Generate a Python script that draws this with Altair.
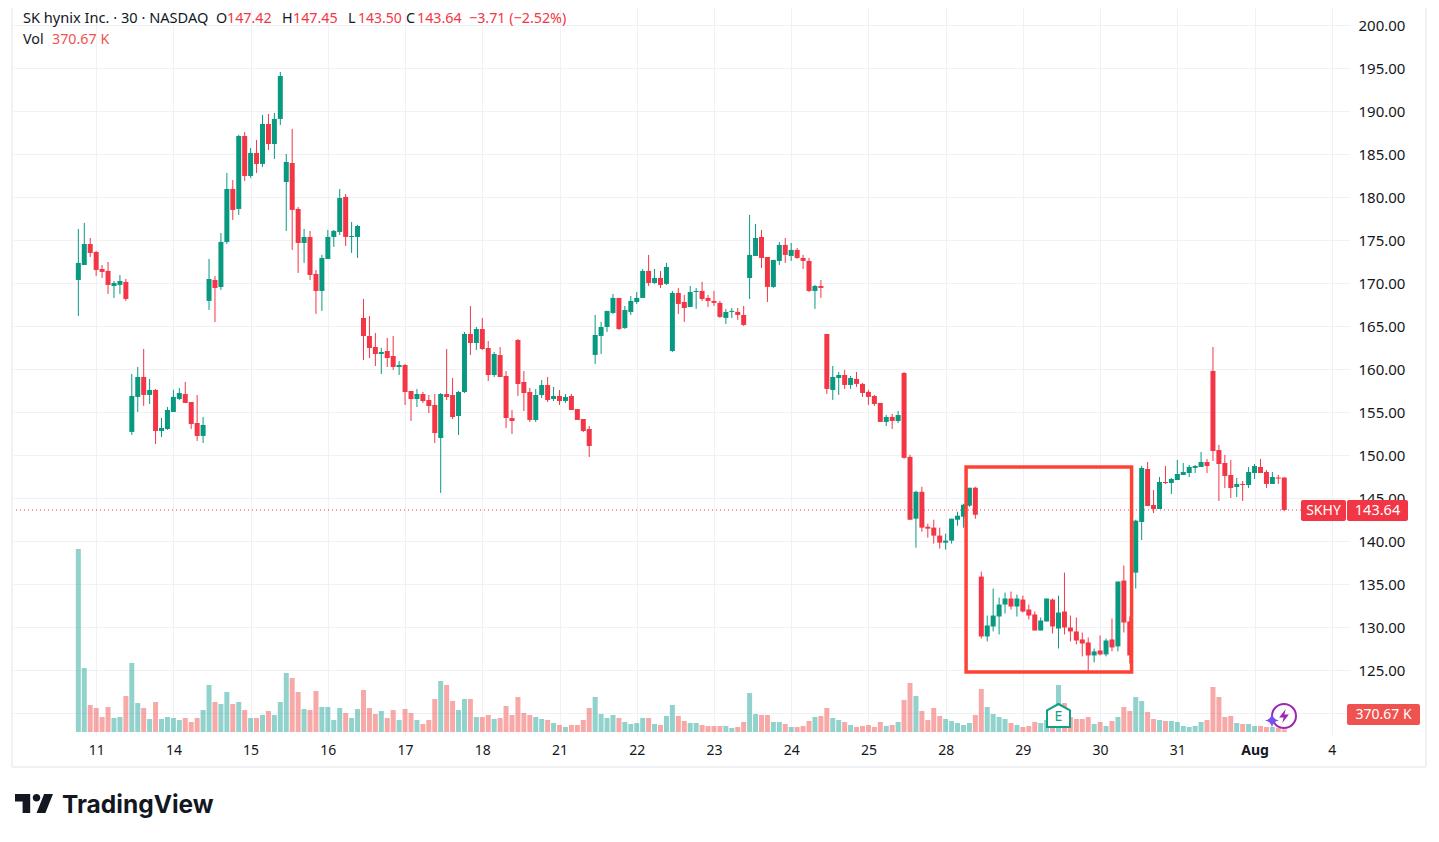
import altair as alt
import pandas as pd

open_ = [170.39,172.13,174.57,173.64,171.67,171.44,169.69,169.81,170.16,152.72,156.79,159.11,157.02,157.60,152.83,153.06,155.04,156.55,157.13,156.20,153.76,152.25,
167.95,170.39,169.57,174.81,180.97,178.65,187.13,182.48,185.16,183.88,188.53,186.20,189.11,181.78,183.99,178.65,174.69,175.39,171.09,169.11,172.83,175.39,175.97,180.04,175.39,175.39,
165.97,163.87,162.59,161.78,162.13,161.55,160.27,160.50,157.48,156.55,157.13,156.43,155.85,152.01,157.13,157.01,154.57,157.36,164.11,163.06,164.69,162.48,159.34,161.66,159.22,154.34,163.41,158.52,157.36,154.11,157.01,158.17,156.55,156.90,156.31,156.90,155.38,154.22,153.06,
161.67,163.88,164.92,166.55,168.30,164.81,166.67,167.83,168.30,171.44,170.04,170.62,169.93,162.13,168.88,167.83,167.25,168.99,169.11,168.30,167.95,167.72,165.97,166.67,166.67,166.32,170.62,173.18,175.39,173.06,169.58,172.60,174.46,173.18,173.88,172.95,172.60,169.11,169.69,164.11,157.60,158.99,159.34,158.18,158.88,158.30,157.37,156.90,156.09,153.88,154.46,153.99,
159.57,149.82,142.63,145.76,141.70,141.59,140.66,139.84,140.08,142.51,142.86,144.14,146.23,135.90,128.94,130.10,131.26,132.65,133.35,132.42,133.23,132.07,131.49,129.63,130.68,133.23,129.86,131.84,129.98,129.52,128.59,128.24,126.73,127.31,126.85,128.59,127.78,135.44,130.68,136.36,
142.25,148.41,144.22,143.76,146.90,146.78,147.13,147.71,147.94,148.53,148.64,149.22,159.81,150.62,149.11,147.71,146.32,146.67,146.55,147.94,148.64,148.06,146.67,147.41,147.42]

high = [176.32,177.02,175.27,173.76,172.13,172.48,170.27,170.97,170.50,159.46,160.27,162.37,158.88,157.71,154.34,155.62,157.60,157.83,158.53,156.20,157.02,154.46,
172.83,170.85,175.85,182.83,182.02,187.25,187.60,185.74,186.67,189.57,189.69,189.81,194.57,185.04,187.95,178.88,176.32,176.09,171.55,173.30,176.20,176.20,180.97,180.39,177.13,176.79,
168.18,166.20,164.22,162.48,163.64,163.87,160.97,160.62,157.48,157.71,157.36,157.01,157.13,157.24,162.36,158.99,157.48,164.34,167.36,164.92,165.97,163.29,162.01,162.59,159.80,155.27,163.52,159.80,157.83,157.71,158.76,159.11,157.94,157.59,157.13,157.13,155.38,154.22,153.41,
166.32,165.51,166.79,168.76,168.30,167.37,168.53,168.99,171.67,173.30,171.67,171.44,172.37,169.11,169.46,168.65,169.69,169.46,170.16,168.65,169.11,167.95,167.02,167.13,167.13,167.37,177.95,176.90,176.20,173.06,172.72,174.81,175.27,174.69,174.11,173.30,172.95,169.81,170.39,164.11,160.39,159.69,159.93,159.23,159.69,158.41,157.60,157.02,156.09,154.69,154.81,155.16,
159.69,150.06,145.88,146.34,142.05,142.51,141.59,140.89,142.63,143.44,144.37,146.23,146.34,136.48,131.37,134.51,133.46,134.04,134.16,133.81,133.69,132.65,131.84,131.14,133.35,133.35,133.69,136.36,131.37,131.14,129.40,128.82,127.54,129.05,128.70,131.03,135.32,137.18,131.26,142.51,
148.76,149.22,145.97,147.48,148.76,147.36,149.46,149.11,148.88,148.88,150.39,149.57,162.60,151.20,150.04,149.46,147.36,147.01,148.64,148.99,149.57,148.29,148.06,147.71,147.45]

low = [166.20,172.13,173.06,170.85,170.62,168.76,168.30,168.76,167.95,152.37,155.04,155.74,155.97,151.32,152.13,152.95,155.04,156.44,156.09,153.06,151.67,151.43,
166.90,165.50,169.23,174.57,177.37,177.95,181.90,182.25,182.83,183.53,185.50,184.46,188.41,176.09,173.88,171.20,172.37,170.39,166.44,166.79,172.83,174.23,175.62,174.34,173.53,172.95,
161.08,161.31,160.38,159.45,160.27,159.92,159.34,155.85,153.99,155.62,156.08,154.92,151.43,145.62,156.43,154.22,152.36,157.24,161.66,162.25,162.25,158.64,159.11,159.11,153.18,152.48,156.90,155.15,153.87,153.87,156.66,156.20,156.31,155.85,156.08,155.27,154.11,152.71,149.80,
160.62,161.79,164.34,166.44,164.58,164.69,166.32,167.60,168.30,169.69,169.93,169.46,169.81,162.02,166.44,165.51,167.25,167.02,167.95,167.25,167.37,165.97,165.27,165.97,165.74,165.04,168.18,173.18,171.79,167.83,169.46,172.13,172.37,172.60,172.83,171.67,168.99,167.02,168.30,157.13,156.44,157.02,157.72,157.72,157.95,156.79,155.86,155.74,153.88,153.41,153.06,153.76,
149.59,142.51,139.26,141.12,140.42,139.73,139.15,139.03,139.73,141.82,141.59,144.02,142.63,128.70,128.36,129.52,129.17,131.61,132.07,131.26,131.72,130.91,129.63,129.63,130.68,129.28,127.54,129.17,128.36,128.01,126.62,124.95,125.92,126.73,126.62,127.20,127.20,129.40,125.80,134.51,
140.15,144.11,143.29,143.76,146.67,145.50,147.13,147.71,147.48,147.94,148.64,147.94,149.34,144.69,146.20,145.04,145.15,144.69,146.20,147.25,147.94,146.20,146.67,146.67,143.50]

close = [172.37,174.57,173.53,171.55,171.32,169.81,170.04,170.27,168.18,156.90,159.11,157.02,157.60,152.83,153.18,155.27,156.79,157.25,156.09,153.64,152.25,153.53,
170.50,169.46,174.81,180.97,178.53,187.13,182.48,185.16,183.88,188.53,186.20,189.11,194.11,184.11,178.53,174.69,175.39,170.97,169.11,172.95,175.39,176.09,179.92,175.39,175.50,176.67,
163.87,162.48,161.78,162.01,161.31,160.27,160.50,157.36,156.55,157.13,156.31,155.73,152.59,157.13,156.78,154.45,157.36,164.11,163.06,164.69,162.36,159.34,161.78,159.11,154.34,153.99,158.29,157.24,154.11,157.01,158.17,156.43,156.90,156.31,156.78,155.27,154.11,152.83,151.08,
163.99,164.92,166.79,168.30,164.69,166.90,167.95,168.30,171.44,170.04,170.62,169.81,171.90,168.88,167.60,167.13,168.99,169.11,168.18,167.95,167.72,166.09,166.67,166.79,166.32,165.16,173.30,175.27,172.95,169.58,172.72,174.46,173.30,173.88,172.95,172.60,169.11,169.69,169.46,157.72,159.11,159.34,158.18,158.99,158.30,157.25,156.79,155.97,153.88,154.46,153.99,154.69,
149.71,142.51,145.76,141.59,141.47,140.66,139.84,140.08,142.63,142.98,144.25,146.23,143.09,128.94,130.21,131.37,132.65,133.35,132.42,133.35,131.84,131.37,129.63,130.79,133.35,130.10,131.72,129.98,129.52,128.47,128.12,126.73,127.20,126.85,128.47,127.66,135.32,130.56,126.73,142.40,
148.53,144.11,143.76,146.90,146.78,147.25,147.83,148.06,148.64,148.76,149.22,148.76,150.50,148.99,147.60,146.20,146.67,146.55,148.06,148.76,147.94,146.67,147.48,147.29,143.64]

volume_k = [25254,8832,3726,3312,2070,3450,1932,2070,4968,9522,4002,3312,1794,4140,1794,2070,1932,1656,1932,1380,1932,3036,
6486,4140,3864,5520,3864,4140,3036,1932,1932,2346,2898,2346,4140,8142,7452,5520,3174,3036,5658,3450,3450,1656,3312,2622,1932,3174,
5796,3312,2484,2898,1932,3036,1656,3174,2622,1656,1104,1656,4554,7038,6486,4278,3036,4554,4554,2070,2070,2346,1794,1932,3588,2346,4830,2622,2346,2070,1794,1656,1242,966,690,966,966,1656,3312,
4830,2484,1932,2346,1932,1380,1104,1242,1932,1932,1104,966,2208,3726,2208,1518,1242,1242,966,828,828,828,828,552,690,1380,5382,2484,2346,2346,1380,1380,1104,690,690,828,1518,2070,2208,3312,1932,1656,1380,966,690,828,966,690,1380,828,966,1380,
4416,6762,4968,2898,1656,3312,2208,1794,1518,1242,966,1242,2346,5934,3450,2484,2070,1794,1242,966,690,828,1380,1242,1656,2622,6486,4002,2070,1794,1794,2070,1104,1380,828,1518,2070,3450,2898,4830,
4278,2760,1794,1656,1518,1518,1380,828,690,828,1380,1656,6210,4830,2070,2208,1242,1104,1104,828,828,690,690,552,370.67]

tick_bars = [3,16,29,42,55,68,81,94,107,120,133,146,159,172,185,198,211]
tick_labels = ["11","14","15","16","17","18","21","22","23","24","25","28","29","30","31","Aug","4"]
price_ticks = [120,125,130,135,140,145,150,155,160,165,170,175,180,185,190,195,200]
last_price = 143.64
box = {"x0":[149.44],"x1":[177.3],"p0":[124.80],"p1":[148.64]}

UP, DOWN = "#089981", "#F23645"
VUP, VDOWN = "#26a69a", "#ef5350"
FONT = "Noto Sans"
INK = "#131722"
GRID = "#F0F1F4"
W, H = 1336, 727

n = len(open_)
assert n == len(high) == len(low) == len(close) == len(volume_k)
df = pd.DataFrame({"i":range(n),"o":open_,"h":high,"l":low,"c":close,"v":volume_k})
df["top"] = df[["o","c"]].max(axis=1)
df["bot"] = df[["o","c"]].min(axis=1)
df["col"] = [UP if c>=o else DOWN for o,c in zip(open_,close)]
df["vcol"] = [VUP if c>=o else VDOWN for o,c in zip(open_,close)]

xscale = alt.Scale(domain=[-11,213.9], nice=False, zero=False, padding=0)
yscale = alt.Scale(domain=[117.48,202.01], nice=False, zero=False)
vscale = alt.Scale(domain=[-414,99912], nice=False, zero=False)

label_js = "[" + ",".join(f"'{t}'" for t in tick_labels) + "][(datum.value-3)/13]"
xaxis = alt.Axis(values=tick_bars, labelExpr=label_js, title=None, grid=True, gridColor=GRID, gridWidth=1,
                 domain=False, ticks=False, labelFont=FONT, labelFontSize=14, labelColor=INK, labelPadding=8,
                 labelFontWeight={"expr":"datum.value==198?'bold':'normal'"}, labelFlush=False, labelOverlap=False)
yaxis = alt.Axis(values=price_ticks, orient="right", title=None, grid=True, gridColor=GRID, gridWidth=1,
                 domain=False, ticks=False, labelFont=FONT, labelFontSize=15, labelColor=INK, labelPadding=9,
                 labelExpr="datum.value<125?'':format(datum.value,'.2f')", labelFlush=False, labelOverlap=False)

vol = alt.Chart(df).mark_bar(size=5, opacity=0.5).encode(
    x=alt.X("i:Q", scale=xscale, axis=xaxis),
    y=alt.Y("v:Q", scale=vscale, axis=None),
    y2=alt.Y2(datum=0),
    color=alt.Color("vcol:N", scale=None),
)
wick = alt.Chart(df).mark_rule(strokeWidth=1).encode(
    x=alt.X("i:Q", scale=xscale, axis=xaxis),
    y=alt.Y("h:Q", scale=yscale, axis=yaxis),
    y2="l:Q",
    color=alt.Color("col:N", scale=None),
)
body = alt.Chart(df).mark_bar(size=5).encode(
    x=alt.X("i:Q", scale=xscale, axis=xaxis),
    y=alt.Y("top:Q", scale=yscale, axis=yaxis),
    y2="bot:Q",
    color=alt.Color("col:N", scale=None),
)
lastline = alt.Chart(pd.DataFrame({"p":[last_price]})).mark_rule(color=DOWN, strokeWidth=1, strokeDash=[1,3]).encode(
    y=alt.Y("p:Q", scale=yscale, axis=yaxis),
)
rect = alt.Chart(pd.DataFrame(box)).mark_rect(filled=False, stroke="#FF4136", strokeWidth=3.5).encode(
    x=alt.X("x0:Q", scale=xscale, axis=xaxis), x2="x1:Q",
    y=alt.Y("p0:Q", scale=yscale, axis=yaxis), y2="p1:Q",
)
price = alt.layer(wick, body, lastline, rect)

def P(x, y):
    return dict(x=alt.value(x-13), y=alt.value(y-8))

def text(s, x, y, color=INK, size=14.3, weight="normal", align="left", font=FONT):
    return alt.Chart(pd.DataFrame({"t":[s]})).mark_text(
        font=font, fontSize=size, fontWeight=weight, align=align, baseline="middle", color=color
    ).encode(text="t:N", **P(x, y))

def box_px(x0, x1, y0, y1, color):
    return alt.Chart(pd.DataFrame({"a":[0]})).mark_rect(color=color, cornerRadius=2).encode(
        x=alt.value(x0-13), x2=alt.value(x1-13), y=alt.value(y0-8), y2=alt.value(y1-8))

def line_px(x0, x1, y0, y1, color=GRID, w=2):
    return alt.Chart(pd.DataFrame({"a":[0]})).mark_rule(color=color, strokeWidth=w).encode(
        x=alt.value(x0-13), x2=alt.value(x1-13), y=alt.value(y0-8), y2=alt.value(y1-8))

def glyph(shape, x, y, size, **kw):
    return alt.Chart(pd.DataFrame({"a":[0]})).mark_point(shape=shape, size=size, **kw).encode(**P(x, y))

LOGO = ("M-0.2,-0.5 L-1,-0.5 L-1,-0.1 L-0.6,-0.1 L-0.6,0.5 L-0.2,0.5 Z "
        "M0.6,0.5 L0.133,0.5 L0.533,-0.5 L1,-0.5 Z "
        "M0.133,-0.1 A0.2,0.2 0 1 0 0.133,-0.5 A0.2,0.2 0 0 0 0.133,-0.1 Z")
HOUSE = "M-1,-0.45 L0,-1 L1,-0.45 L1,1 L-1,1 Z"
BOLT = "M0.25,-1 L-0.7,0.2 L-0.05,0.2 L-0.25,1 L0.7,-0.2 L0.05,-0.2 Z"
STAR = "M0,-1 Q0.15,-0.15 1,0 Q0.15,0.15 0,1 Q-0.15,0.15 -1,0 Q-0.15,-0.15 0,-1 Z"

notes = [
    line_px(12,12,8,767), line_px(1426,1426,8,767), line_px(12,1426,767,767),
    box_px(1301,1346,500,521,DOWN), box_px(1347,1408,500,521,DOWN),
    text("SKHY",1323.5,511,"#ffffff",14,align="center"),
    text("143.64",1377.5,511,"#ffffff",14.5,align="center"),
    box_px(1347,1420,704,725,VDOWN),
    text("370.67 K",1383.5,715,"#ffffff",14,align="center"),
    text("SK hynix Inc. · 30 · NASDAQ",23,19,size=14.6),
    text("O",216,19), text("147.42",227,19,DOWN),
    text("H",282,19), text("147.45",293,19,DOWN),
    text("L",348,19), text("143.50",358,19,DOWN,size=14),
    text("C",406,19), text("143.64",417,19,DOWN),
    text("−3.71 (−2.52%)",469,19,DOWN),
    text("Vol",23,40), text("370.67 K",52,40,VDOWN),
    glyph(HOUSE,1058.5,715.5,529,filled=True,fill="#ffffff",stroke="#12A085",strokeWidth=2,opacity=1),
    text("E",1058.5,717,"#12A085",14,"normal",align="center"),
    glyph("circle",1284,716,576,filled=False,color="#9C27B0",strokeWidth=2,opacity=1),
    glyph(BOLT,1284,716,196,filled=True,color="#9C27B0",opacity=1),
    glyph(STAR,1272,720.5,196,filled=True,color="#7A4DF5",opacity=1),
    glyph(LOGO,34,803.5,1444,filled=True,color=INK,opacity=1),
    text("TradingView",62,805.5,INK,24.5,"bold",font="Inter"),
]

chart = alt.layer(vol, price, *notes).resolve_scale(y="independent").properties(
    width=W, height=H,
    padding={"left":5,"top":0,"right":78,"bottom":85},
    autosize=alt.AutoSizeParams(type="none"),
    background="#ffffff",
).configure_view(strokeWidth=0)

chart.save("out.html", embed_options={"renderer":"svg","actions":False})
